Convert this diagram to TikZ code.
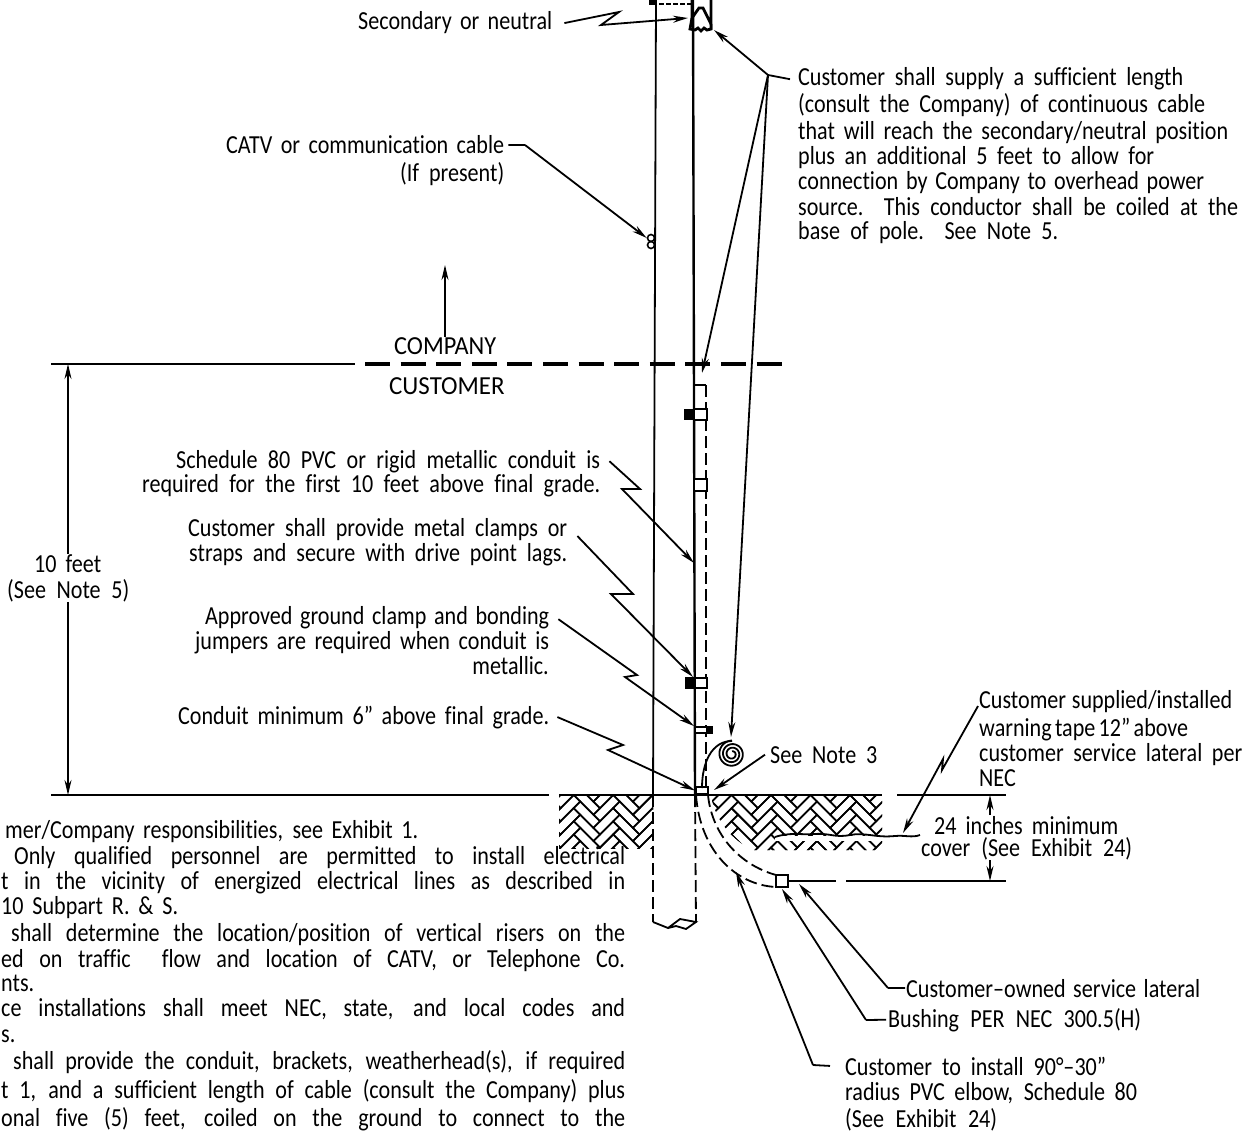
\documentclass[tikz,border=0pt]{standalone}
\usepackage{xcolor}
\usepackage{fontspec}
\setmainfont[FakeStretch=0.85,Ligatures=NoCommon]{Carlito}
\usepackage{tikz}
\usetikzlibrary{arrows.meta,positioning}
\newcommand{\fitline}[2]{\hbox to #1pt{#2}}
\tikzset{
  txt/.style={anchor=base west, inner sep=0pt, font=\fontsize{26}{28}\selectfont},
  wire/.style={line width=1.8pt},
  leader/.style={line width=1.8pt, -{Stealth[length=15pt,width=7pt]}},
  hidden/.style={line width=1.8pt, dash pattern=on 12pt off 5pt},
  strap/.style={draw, line width=1.8pt, fill=white, inner sep=0pt},
  lug/.style={draw, line width=1.8pt, fill=black, inner sep=0pt},
}
\begin{document}
\begin{tikzpicture}[x=1pt,y=-1pt]
  \useasboundingbox (0,0) rectangle (1258,1134);

  % Soil hatch
  \foreach \regn in {1,2}{
    \begin{scope}
      \ifnum\regn=1
        \clip (559,796) rectangle (653,848);
      \else
        \clip (711,796) -- (882,796) -- (882,850) -- (752,850) .. controls (730,838) and (716,820) .. (711,796);
      \fi
      \begin{scope}[shift={(600,795)},rotate=45,x=9.3pt,y=9.3pt,line width=1.6pt]
        \foreach \row in {-30,...,8}
          \foreach \k in {-3,...,9}{
            \pgfmathtruncatemacro{\hx}{\row+6*\k}
            \pgfmathtruncatemacro{\vx}{\row+6*\k+5}
            \draw (\hx,\row) rectangle ++(3,1);
            \draw (\vx,\row) rectangle ++(1,3);
          }
      \end{scope}
    \end{scope}
  }
  \fill[white] (775,836) rectangle (884,841);
  % Warning tape
  \draw[wire] (775,837) .. controls (790,832) and (800,835) .. (815,834)
    .. controls (830,833) and (835,838) .. (850,835)
    .. controls (865,832) and (875,838) .. (895,836)
    .. controls (905,835) and (912,838) .. (920,835);

  % Pole
  \coordinate (poletl) at (656,0);
  \coordinate (poletr) at (693,0);
  \coordinate (polegl) at (653,795);
  \coordinate (polegr) at (695,795);
  \coordinate (polebl) at (653,922);
  \coordinate (polebr) at (696,922);
  \draw[wire] (poletl) -- (polegl);
  \draw[line width=2.4pt] (poletr) -- (polegr);
  \draw[hidden] (polegl) -- (polebl);
  \draw[hidden] (polegr) -- (polebr);
  \draw[wire] (polebl) -- (668,928) -- (680,919) -- (696,922) -- (686,929) -- (676,926) -- (668,928);

  % Weatherhead
  \draw[line width=1.6pt, dash pattern=on 5pt off 2pt] (652,4) -- (691,4);
  \fill (649,0) rectangle (657,5);
  \draw[line width=2.8pt] (692,0) -- (692,18) -- (699,8) -- (703,8) -- (711,24) -- (711,0);
  \draw[line width=2.8pt] (692,18) -- (690,29) -- (695,30) -- (698,28) -- (701,31) -- (704,28) -- (707,30) -- (711,29) -- (711,24);

  % CATV clamp
  \node[circle, draw, line width=1.6pt, inner sep=0pt, minimum size=7pt] (catvtop) at (651,238) {};
  \node[circle, draw, line width=1.6pt, inner sep=0pt, minimum size=7pt] (catvbot) at (651,245) {};

  % Boundary and ground lines
  \coordinate (bndl) at (51,364);
  \coordinate (bndm) at (355,364);
  \coordinate (bnds) at (365,364);
  \coordinate (bnde) at (785,364);
  \draw[wire] (bndl) -- (bndm);
  \draw[line width=3.6pt, dash pattern=on 25pt off 10.6pt] (bnds) -- (bnde);
  \coordinate (grda) at (51,795);
  \coordinate (grdb) at (549,795);
  \coordinate (grdc) at (559,795);
  \coordinate (grdd) at (882,795);
  \coordinate (grde) at (897,795);
  \coordinate (grdf) at (1006,795);
  \draw[wire] (grda) -- (grdb);
  \draw[wire] (grdc) -- (grdd);
  \draw[wire] (grde) -- (grdf);

  % Conduit
  \draw[wire] (695,385) -- (706,385);
  \draw[hidden] (706,385) -- (706,795);
  \node[strap, minimum width=13pt, minimum height=11pt] (strapa) at (700.5,414.5) {};
  \node[lug, minimum width=7pt, minimum height=10pt, left=0pt of strapa] (luga) {};
  \node[strap, minimum width=13pt, minimum height=12pt] (strapb) at (700.5,485) {};
  \node[strap, minimum width=12pt, minimum height=10pt] (strapc) at (701,683) {};
  \node[lug, minimum width=7pt, minimum height=10pt, left=0pt of strapc] (lugc) {};
  \node[strap, minimum width=12pt, minimum height=6pt] (strapd) at (701,730) {};
  \node[lug, minimum width=3pt, minimum height=6pt, right=0pt of strapd] (lugd) {};
  \node[strap, minimum width=12pt, minimum height=7pt] (strape) at (702,790.5) {};

  % Coil
  \draw[wire] (702,788) .. controls (702,762) and (712,741) .. (732,741);
  \draw[wire] plot[domain=90:1170,samples=130,smooth] ({732+(13.5-(\x-90)/100)*cos(\x)},{754-(13.5-(\x-90)/100)*sin(\x)});

  % Elbow and lateral
  \draw[hidden] (696,795) .. controls (700,850) and (735,885) .. (776,887);
  \draw[hidden] (708,795) .. controls (712,835) and (740,865) .. (776,875);
  \node[strap, minimum width=12pt, minimum height=12pt] (bushing) at (782,881) {};
  \coordinate (latb) at (836,881);
  \coordinate (latc) at (846,881);
  \coordinate (latd) at (1006,881);
  \draw[wire] (bushing.east) -- (latb);
  \draw[wire] (latc) -- (latd);

  % Labels
  \node[txt] (secondary) at (358,30) {\fitline{194}{Secondary or neutral}};
  \node[txt] (catva) at (226,154) {\fitline{278}{CATV or communication cable}};
  \node[txt] (catvb) at (400,182) {\fitline{104}{(If present)}};
  \node[txt] (supplya) at (798,86) {\fitline{385}{Customer shall supply a sufficient length}};
  \node[txt] (supplyb) at (798,113) {\fitline{407}{(consult the Company) of continuous cable}};
  \node[txt] (supplyc) at (798,140) {\fitline{430}{that will reach the secondary/neutral position}};
  \node[txt] (supplyd) at (798,165) {\fitline{356}{plus an additional 5 feet to allow for}};
  \node[txt] (supplye) at (798,190) {\fitline{406}{connection by Company to overhead power}};
  \node[txt] (supplyf) at (798,215) {\fitline{440}{source.\ \ This conductor shall be coiled at the}};
  \node[txt] (supplyg) at (798,240) {\fitline{260}{base of pole.\ \ See Note 5.}};
  \node[txt] (company) at (394,354) {\scalebox{1.1}[1]{COMPANY}};
  \node[txt] (customer) at (389,394) {\scalebox{1.127}[1]{CUSTOMER}};
  \node[txt] (schedulea) at (176,468) {\fitline{424}{Schedule 80 PVC or rigid metallic conduit is}};
  \node[txt] (scheduleb) at (142,492) {\fitline{458}{required for the first 10 feet above final grade.}};
  \node[txt] (clampa) at (188,536) {\fitline{379}{Customer shall provide metal clamps or}};
  \node[txt] (clampb) at (189,561) {\fitline{378}{straps and secure with drive point lags.}};
  \node[txt] (bonda) at (205,624) {\fitline{344}{Approved ground clamp and bonding}};
  \node[txt] (bondb) at (195,649) {\fitline{354}{jumpers are required when conduit is}};
  \node[txt, anchor=base east] (bondc) at (549,674) {metallic.};
  \node[txt] (minimum) at (178,724) {\fitline{371}{Conduit minimum 6" above final grade.}};
  \node[txt] (tenfeet) at (34,572) {\fitline{67}{10 feet}};
  \node[txt] (seefive) at (7,598) {\fitline{122}{(See Note 5)}};
  \node[txt] (seethree) at (770,763) {\fitline{107}{See Note 3}};
  \node[txt] (tapea) at (979,708) {\fitline{253}{Customer supplied/installed}};
  \node[txt] (tapeb) at (979,736) {\fitline{196}{warning tape 12" above}};
  \node[txt] (tapec) at (979,761) {\fitline{263}{customer service lateral per}};
  \node[txt] (taped) at (979,786) {NEC};
  \node[txt] (covera) at (934,834) {\fitline{184}{24 inches minimum}};
  \node[txt] (coverb) at (921,856) {\fitline{211}{cover (See Exhibit 24)}};
  \node[txt] (owned) at (906,997) {\fitline{294}{Customer--owned service lateral}};
  \node[txt] (bushtxt) at (888,1027) {\fitline{253}{Bushing PER NEC 300.5(H)}};
  \node[txt] (elbowa) at (845,1075) {\fitline{261}{Customer to install 90°--30"}};
  \node[txt] (elbowb) at (845,1100) {\fitline{292}{radius PVC elbow, Schedule 80}};
  \node[txt] (elbowc) at (845,1127) {\fitline{152}{(See Exhibit 24)}};

  % Notes
  \node[txt] (notea) at (5,838) {\fitline{413}{mer/Company responsibilities, see Exhibit 1.}};
  \node[txt] (noteb) at (14,864) {\fitline{611}{Only qualified personnel are permitted to install electrical}};
  \node[txt] (notec) at (1,889) {\fitline{624}{t in the vicinity of energized electrical lines as described in}};
  \node[txt] (noted) at (1,914) {\fitline{177}{10 Subpart R. \& S.}};
  \node[txt] (notee) at (11,941) {\fitline{614}{shall determine the location/position of vertical risers on the}};
  \node[txt] (notef) at (1,967) {\fitline{624}{ed on traffic\ \ flow and location of CATV, or Telephone Co.}};
  \node[txt] (noteg) at (1,991) {nts.};
  \node[txt] (noteh) at (1,1016) {\fitline{624}{ce installations shall meet NEC, state, and local codes and}};
  \node[txt] (notei) at (1,1042) {s.};
  \node[txt] (notej) at (13,1069) {\fitline{612}{shall provide the conduit, brackets, weatherhead(s), if required}};
  \node[txt] (notek) at (1,1098) {\fitline{624}{t 1, and a sufficient length of cable (consult the Company) plus}};
  \node[txt] (notel) at (1,1126) {\fitline{624}{onal five (5) feet, coiled on the ground to connect to the}};

  % Dimensions
  \draw[leader] (company.north -| 445,325) -- (445,265);
  \draw[leader] (tenfeet.north -| 68,540) -- (bndl -| 68,365);
  \draw[leader] (seefive.south -| 68,620) -- (grda -| 68,795);
  \draw[leader] (990,815) -- (grdf -| 990,795);
  \draw[leader] (990,860) -- (latd -| 990,881);

  % Leaders
  \coordinate (headtip) at (688,18);
  \draw[leader] ([xshift=12pt]secondary.east) -- (619,12) -- (601,25) -- (headtip);
  \coordinate (catvknee) at (525,145);
  \draw[wire] ([xshift=4pt]catva.east) -- (catvknee);
  \draw[leader] (catvknee) -- (catvtop.west);
  \coordinate (supplyknee) at (768,75);
  \draw[wire] ([xshift=-8pt]supplya.west) -- (supplyknee);
  \draw[leader] (supplyknee) -- (714,30);
  \draw[leader] (supplyknee) -- (702,373);
  \draw[leader] (supplyknee) -- (731,737);
  \draw[leader] ([xshift=9pt]schedulea.east) -- (640,489) -- (622,489) -- (694,563);
  \draw[leader] ([xshift=10pt,yshift=-7pt]clampa.east) -- (633,594) -- (611,594) -- (693,677);
  \draw[leader] ([xshift=9pt,yshift=-2pt]bonda.east) -- (637,675) -- (625,677) -- (strapd.north west);
  \draw[leader] ([xshift=8pt]minimum.east) -- (623,745) -- (608,750) -- (strape.west);
  \draw[leader] ([xshift=-5pt]seethree.west) -- (714,790);
  \draw[leader] ([xshift=-1pt,yshift=-5pt]tapea.west) -- (942,770) -- (943,759) -- (903,833);
  \coordinate (ownedknee) at (888,988);
  \draw[wire] ([xshift=-1pt]owned.west) -- (ownedknee);
  \draw[leader] (ownedknee) -- (799,884);
  \coordinate (bushknee) at (866,1020);
  \draw[wire] ([xshift=-2pt]bushtxt.west) -- (bushknee);
  \draw[leader] (bushknee) -- (782,889);
  \coordinate (elbowknee) at (813,1065);
  \draw[wire] ([xshift=-15pt]elbowa.west) -- (elbowknee);
  \draw[leader] (elbowknee) -- (736,872);
\end{tikzpicture}
\end{document}
